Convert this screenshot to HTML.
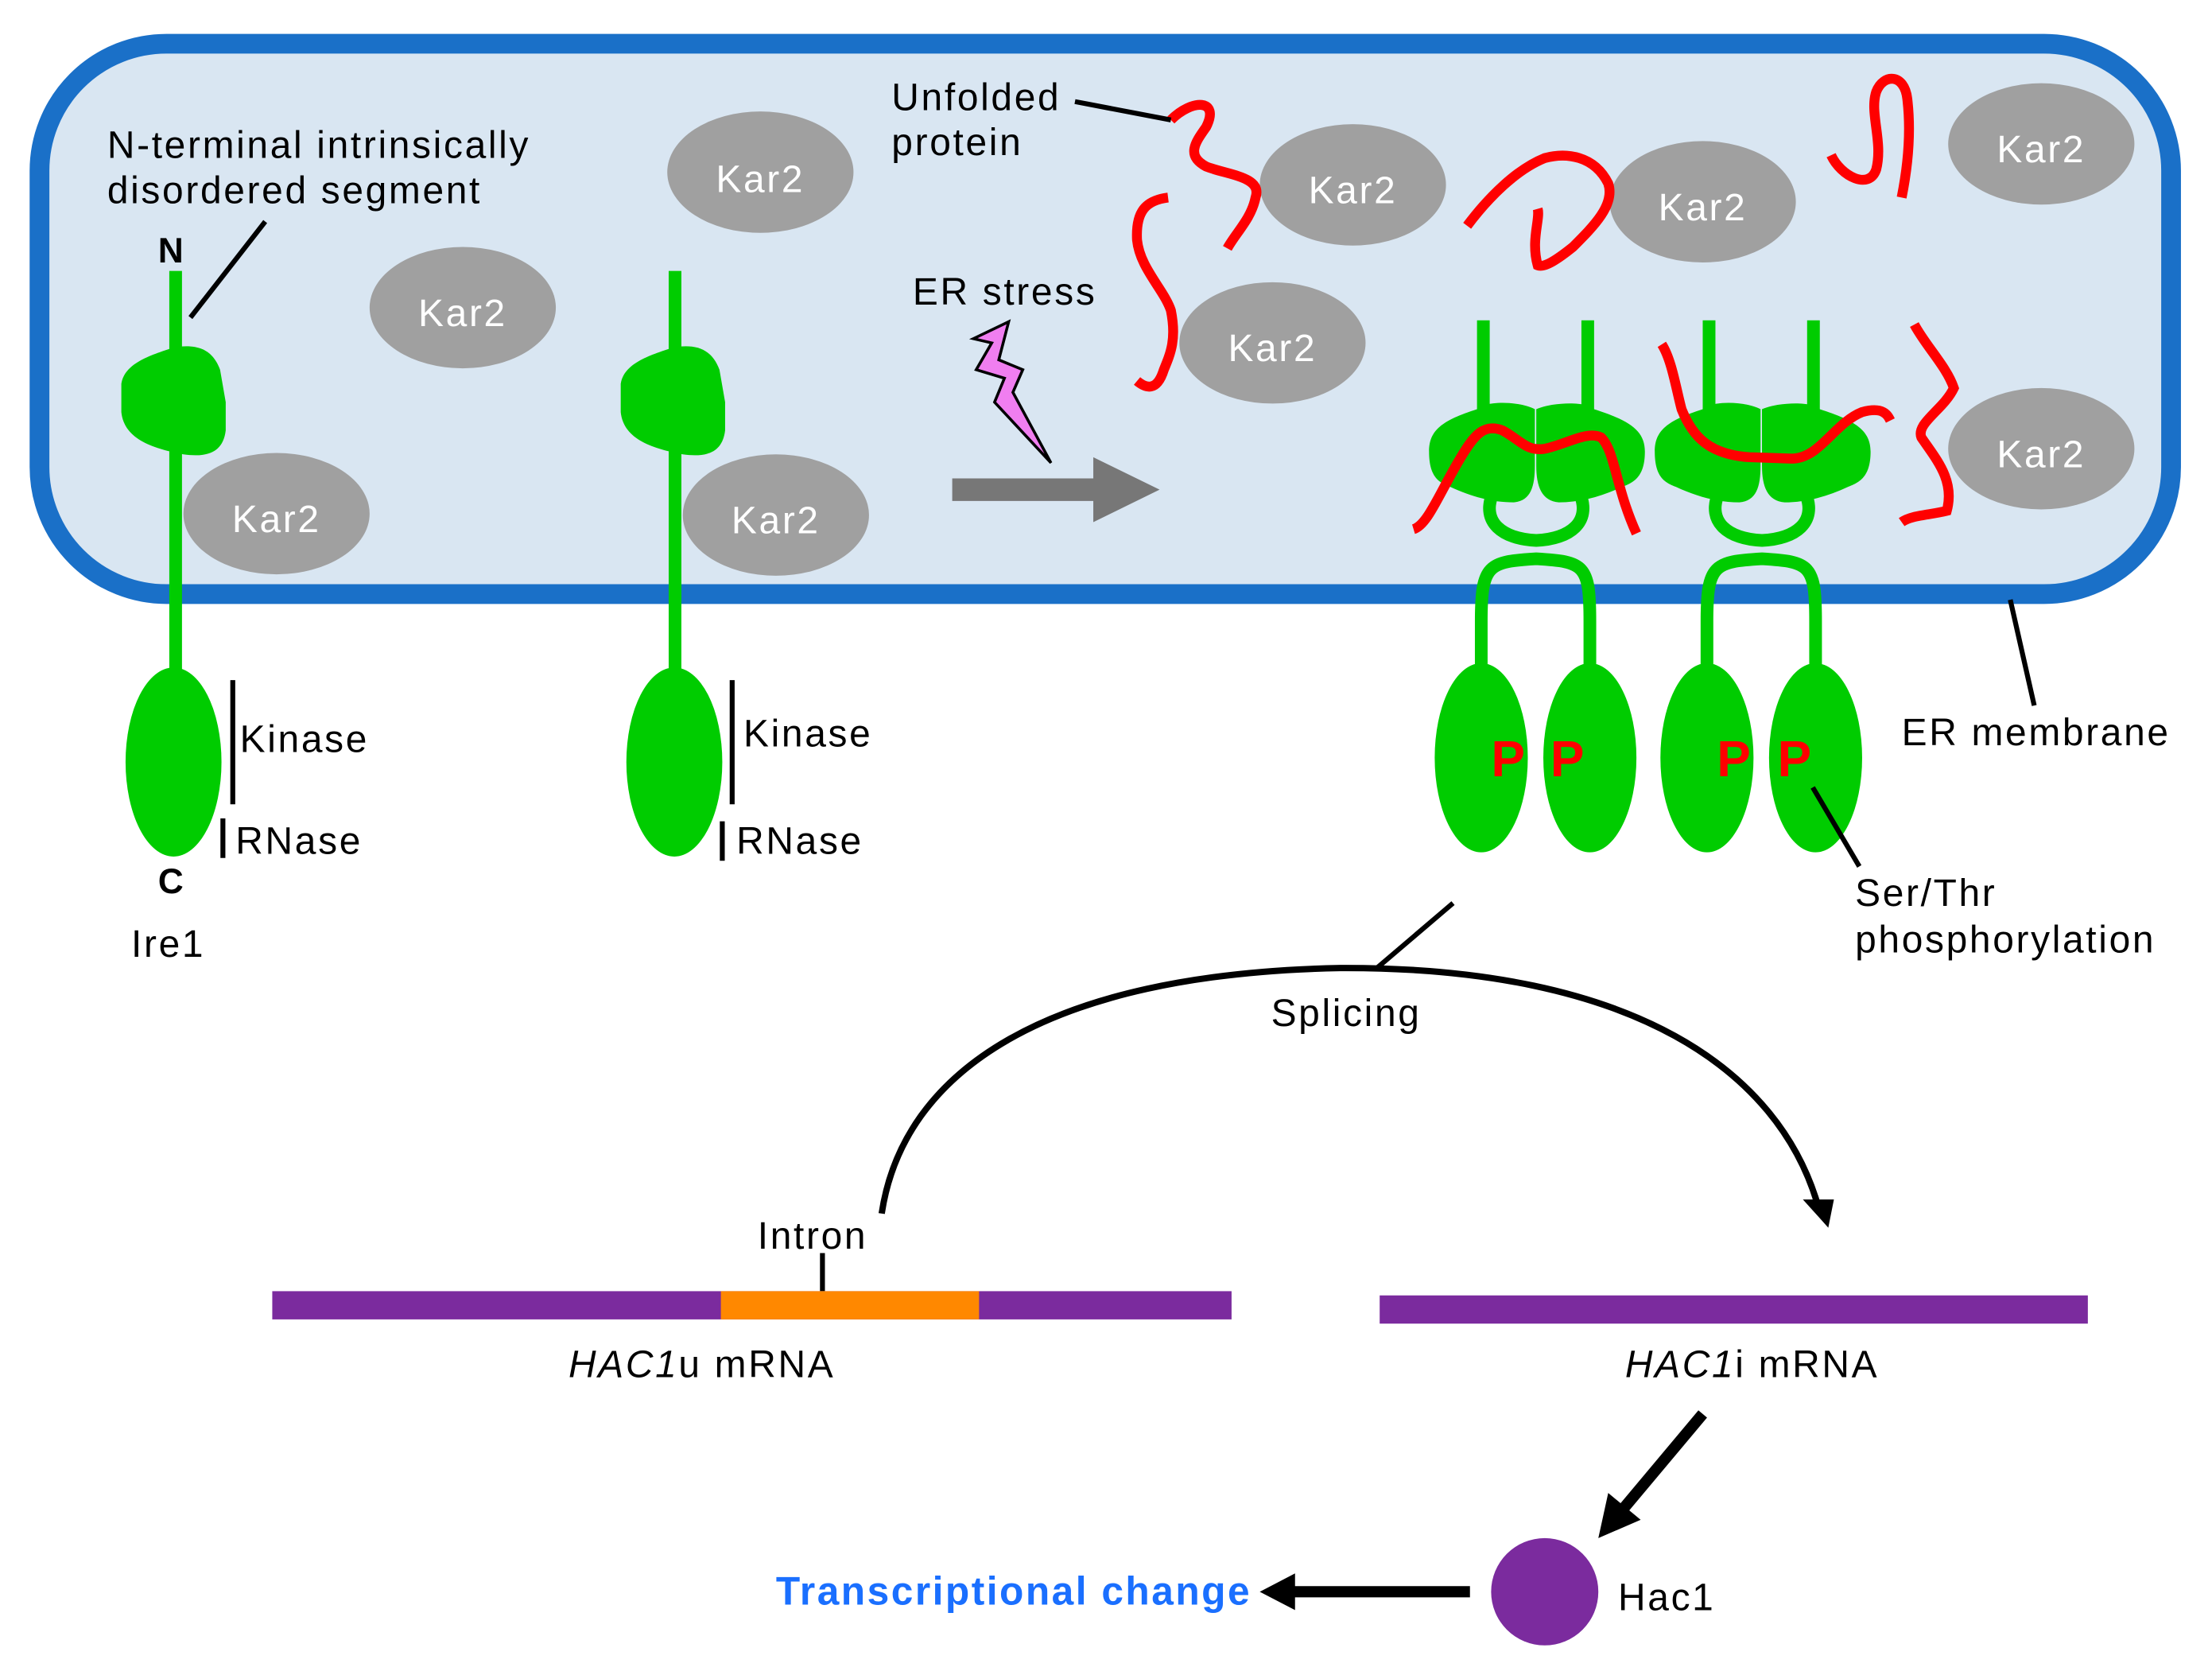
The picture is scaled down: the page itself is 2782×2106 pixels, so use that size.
<!DOCTYPE html>
<html><head><meta charset="utf-8"><style>
html,body{margin:0;padding:0;background:#fff}
svg{display:block}
text{font-family:"Liberation Sans",Arial,sans-serif}
</style></head><body>
<svg width="2782" height="2106" viewBox="0 0 1568 1187" xmlns="http://www.w3.org/2000/svg">
<!-- ER -->
<rect x="28" y="31" width="1511" height="390" rx="90" ry="90" fill="#d9e6f2" stroke="#1a70c8" stroke-width="14"/>

<!-- monomer 1 -->
<rect x="120" y="192" width="9" height="290" fill="#00cc00"/>
<path d="M124,246 C138,244 150,246 156,262 L160,285 L160,305 C158,322 145,324 130,322 C110,318 88,312 86,292 L86,272 C88,258 105,252 124,246 Z" fill="#00cc00"/>
<ellipse cx="123" cy="540" rx="34" ry="67" fill="#00cc00"/>
<!-- monomer 2 -->
<rect x="474" y="192" width="9" height="290" fill="#00cc00"/>
<path d="M478,246 C492,244 504,246 510,262 L514,285 L514,305 C512,322 499,324 484,322 C464,318 442,312 440,292 L440,272 C442,258 459,252 478,246 Z" fill="#00cc00"/>
<ellipse cx="478" cy="540" rx="34" ry="67" fill="#00cc00"/>

<!-- Kar2 -->
<g fill="#a0a0a0">
<ellipse cx="539" cy="122" rx="66" ry="43"/>
<ellipse cx="328" cy="218" rx="66" ry="43"/>
<ellipse cx="196" cy="364" rx="66" ry="43"/>
<ellipse cx="550" cy="365" rx="66" ry="43"/>
<ellipse cx="959" cy="131" rx="66" ry="43"/>
<ellipse cx="902" cy="243" rx="66" ry="43"/>
<ellipse cx="1207" cy="143" rx="66" ry="43"/>
<ellipse cx="1447" cy="102" rx="66" ry="43"/>
<ellipse cx="1447" cy="318" rx="66" ry="43"/>
</g>
<g fill="#fff" font-size="27" text-anchor="middle" letter-spacing="1.5">
<text x="539" y="136">Kar2</text><text x="328" y="231">Kar2</text><text x="196" y="377">Kar2</text>
<text x="550" y="378">Kar2</text><text x="959" y="144">Kar2</text><text x="902" y="256">Kar2</text>
<text x="1207" y="156">Kar2</text><text x="1447" y="115">Kar2</text><text x="1447" y="331">Kar2</text>
</g>

<!-- dimers -->
<g fill="#00cc00">
<rect x="1047" y="227" width="9" height="70"/><rect x="1121" y="227" width="9" height="70"/>
<rect x="1207" y="227" width="9" height="70"/><rect x="1281" y="227" width="9" height="70"/>
</g>
<g fill="none" stroke="#00cc00" stroke-width="9">
<path d="M1058,350 C1050,370 1065,382 1089,383 C1113,382 1128,370 1120,350"/>
<path d="M1218,350 C1210,370 1225,382 1249,383 C1273,382 1288,370 1280,350"/>
<path d="M1050,475 L1050,440 C1050,400 1055,398 1089,396 C1123,398 1127,400 1127,440 L1127,475"/>
<path d="M1210,475 L1210,440 C1210,400 1215,398 1249,396 C1283,398 1287,400 1287,440 L1287,475"/>
</g>
<path d="M1089,290 C1100,285 1125,284 1130,290 C1155,298 1166,305 1166,320 C1166,338 1158,342 1150,345 C1135,352 1120,356 1105,356 C1093,355 1089,345 1089,330 Z" fill="#00cc00"/>
<path d="M1088,290 C1077,284 1052,284 1047,290 C1022,298 1013,305 1013,320 C1013,338 1020,342 1028,345 C1043,352 1058,356 1073,356 C1085,355 1088,345 1088,330 Z" fill="#00cc00"/>
<path d="M1249,290 C1260,285 1285,284 1290,290 C1315,298 1326,305 1326,320 C1326,338 1318,342 1310,345 C1295,352 1280,356 1265,356 C1253,355 1249,345 1249,330 Z" fill="#00cc00"/>
<path d="M1248,290 C1237,284 1212,284 1207,290 C1182,298 1173,305 1173,320 C1173,338 1180,342 1188,345 C1203,352 1218,356 1233,356 C1245,355 1248,345 1248,330 Z" fill="#00cc00"/>
<g fill="#00cc00">
<ellipse cx="1050" cy="537" rx="33" ry="67"/><ellipse cx="1127" cy="537" rx="33" ry="67"/>
<ellipse cx="1210" cy="537" rx="33" ry="67"/><ellipse cx="1287" cy="537" rx="33" ry="67"/>
</g>
<g fill="#ff0000" font-size="36" font-weight="bold" text-anchor="middle">
<text x="1069" y="550">P</text><text x="1111" y="550">P</text><text x="1229" y="550">P</text><text x="1272" y="550">P</text>
</g>

<!-- unfolded proteins red -->
<g fill="none" stroke="#ff0000" stroke-width="7" stroke-linecap="butt">
<path d="M1002,375 C1012,372 1020,350 1035,325 C1045,308 1052,300 1065,305 C1078,312 1082,320 1095,318 C1110,315 1125,305 1135,310 C1145,320 1145,345 1160,378"/>
<path d="M1178,244 C1185,255 1188,275 1192,290 C1200,310 1212,322 1240,324 L1270,325 C1290,325 1300,300 1320,292 C1335,288 1338,294 1340,298"/>
<path d="M1348,370 C1355,365 1368,365 1380,362 C1386,340 1372,325 1362,310 C1358,300 1378,290 1385,275 C1380,260 1365,245 1357,230"/>
<path d="M830,85 C845,70 865,70 855,90 C848,100 840,110 855,118 C870,124 895,125 890,140 C887,155 876,165 870,176"/>
<path d="M828,140 C812,142 805,150 806,170 C808,190 825,205 830,220 C834,240 830,250 825,262 C820,278 812,275 806,270"/>
<path d="M1040,160 C1055,140 1075,120 1095,112 C1110,108 1130,110 1140,130 C1145,145 1130,160 1115,175 C1105,183 1095,190 1090,188 C1085,170 1092,155 1090,148"/>
<path d="M1298,110 C1305,125 1325,135 1330,120 C1335,100 1325,80 1330,65 C1335,52 1350,52 1352,70 C1355,95 1352,120 1348,140"/>
</g>

<!-- ER stress arrow and bolt -->
<polygon points="675,339 775,339 775,324 822,347 775,370 775,355 675,355" fill="#777"/>
<polygon points="690,240 715,228 708,255 725,262 718,278 745,328 705,285 712,268 692,262 703,243" fill="#f07ef0" stroke="#000" stroke-width="2"/>

<!-- texts -->
<g fill="#000" font-size="27" letter-spacing="1.5">
<text x="76" y="112">N-terminal intrinsically</text>
<text x="76" y="144">disordered segment</text>
<text x="632" y="78">Unfolded</text>
<text x="632" y="110">protein</text>
<text x="647" y="216">ER stress</text>
<text x="170" y="533">Kinase</text>
<text x="167" y="605">RNase</text>
<text x="527" y="529">Kinase</text>
<text x="522" y="605">RNase</text>
<text x="93" y="678">Ire1</text>
<text x="1348" y="528">ER membrane</text>
<text x="1315" y="642">Ser/Thr</text>
<text x="1315" y="675">phosphorylation</text>
<text x="901" y="727">Splicing</text>
<text x="537" y="885">Intron</text>
<text x="403" y="976"><tspan font-style="italic">HAC1</tspan>u mRNA</text>
<text x="1152" y="976"><tspan font-style="italic">HAC1</tspan>i mRNA</text>
<text x="1147" y="1141">Hac1</text>
</g>
<text x="112" y="186" font-size="25" font-weight="bold">N</text>
<text x="112" y="633" font-size="25" font-weight="bold">C</text>
<text x="550" y="1137" font-size="28" font-weight="bold" fill="#1a6fff" letter-spacing="1.4">Transcriptional change</text>

<!-- leader lines -->
<g stroke="#000" stroke-width="3.5" fill="none">
<line x1="135" y1="225" x2="188" y2="157"/>
<line x1="762" y1="72" x2="830" y2="85"/>
<line x1="165" y1="482" x2="165" y2="570"/>
<line x1="158" y1="580" x2="158" y2="608"/>
<line x1="519" y1="482" x2="519" y2="570"/>
<line x1="512" y1="582" x2="512" y2="610"/>
<line x1="1425" y1="425" x2="1442" y2="500"/>
<line x1="1285" y1="558" x2="1318" y2="614"/>
<line x1="1030" y1="640" x2="976" y2="686"/>
<line x1="583" y1="888" x2="583" y2="915"/>
<path d="M625,860 C640,760 740,690 950,686 C1160,685 1260,760 1288,852" stroke-width="4.5"/>
</g>
<polygon points="1278,850 1300,850 1296,870" fill="#000"/>

<!-- mRNAs -->
<rect x="193" y="915" width="680" height="20" fill="#7b2b9e"/>
<rect x="511" y="915" width="183" height="20" fill="#ff8800"/>
<rect x="978" y="918" width="502" height="20" fill="#7b2b9e"/>

<!-- Hac1 -->
<line x1="1207" y1="1002" x2="1150" y2="1070" stroke="#000" stroke-width="8"/>
<polygon points="1133,1090 1140,1058 1163,1077" fill="#000"/>
<circle cx="1095" cy="1128" r="38" fill="#7b2b9e"/>
<line x1="1042" y1="1128" x2="915" y2="1128" stroke="#000" stroke-width="8"/>
<polygon points="893,1128 918,1115 918,1141" fill="#000"/>
</svg>
</body></html>
